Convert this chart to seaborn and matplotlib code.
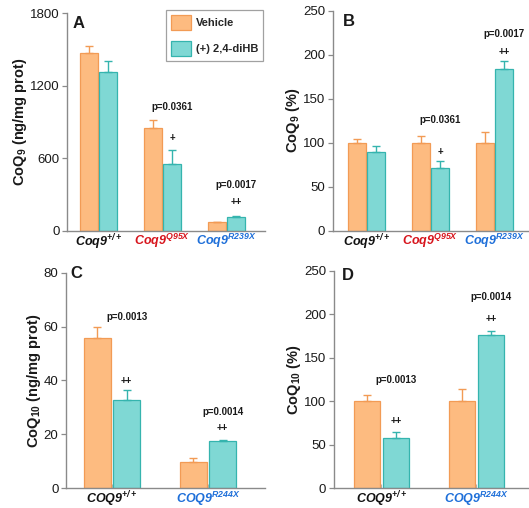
import numpy as np
import pandas as pd
import matplotlib
matplotlib.use("Agg")
import matplotlib.pyplot as plt
import seaborn as sns

# ---- data -------------------------------------------------------------
treatments = ["Vehicle", "(+) 2,4-diHB"]

mouse_genotypes = ["Coq9 +/+", "Coq9 Q95X", "Coq9 R239X"]
mouse_labels = [r"$\mathsf{Coq9}^{\mathsf{+/+}}$",
                r"$\mathsf{Coq9}^{\mathsf{Q95X}}$",
                r"$\mathsf{Coq9}^{\mathsf{R239X}}$"]
mouse_label_colors = ["#111111", "#d7141c", "#1e6fd9"]

human_genotypes = ["COQ9 +/+", "COQ9 R244X"]
human_labels = [r"$\mathsf{COQ9}^{\mathsf{+/+}}$",
                r"$\mathsf{COQ9}^{\mathsf{R244X}}$"]
human_label_colors = ["#111111", "#1e6fd9"]

# A: CoQ9 (ng/mg prot)
coq9_abs_vehicle = [1473, 845, 68]
coq9_abs_vehicle_sem = [54, 71, 6]
coq9_abs_dihb = [1312, 548, 117]
coq9_abs_dihb_sem = [95, 120, 8]

# B: CoQ9 (%)
coq9_pct_vehicle = [100, 100, 100]
coq9_pct_vehicle_sem = [3.8, 8.0, 12.0]
coq9_pct_dihb = [89.4, 70.8, 183.7]
coq9_pct_dihb_sem = [6.4, 8.4, 9.3]

# C: CoQ10 (ng/mg prot)
coq10_abs_vehicle = [55.9, 9.9]
coq10_abs_vehicle_sem = [4.1, 1.5]
coq10_abs_dihb = [32.8, 17.4]
coq10_abs_dihb_sem = [3.6, 0.7]

# D: CoQ10 (%)
coq10_pct_vehicle = [100, 100]
coq10_pct_vehicle_sem = [6.9, 13.7]
coq10_pct_dihb = [58.2, 175.7]
coq10_pct_dihb_sem = [6.8, 5.3]

# ---- style ------------------------------------------------------------
sns.set_theme(style="white")
plt.rcParams["font.family"] = ["Liberation Sans", "DejaVu Sans"]
plt.rcParams["mathtext.fontset"] = "custom"
plt.rcParams["mathtext.rm"] = "Liberation Sans:bold"
plt.rcParams["mathtext.it"] = "Liberation Sans:italic:bold"
plt.rcParams["mathtext.bf"] = "Liberation Sans:bold"
plt.rcParams["mathtext.sf"] = "Liberation Sans:italic:bold"

fill_colors = ["#fdbb80", "#7fd8d4"]
edge_colors = ["#f29b55", "#35b4ae"]
spine_color = "#8a8a8a"
text_color = "#1a1a1a"

fig = plt.figure(figsize=(5.29, 5.08), dpi=100)
fig.patch.set_facecolor("white")


def panel(rect, genotypes, labels, label_colors, vehicle, vehicle_sem,
          dihb, dihb_sem, xlim, ylim, yticks, ylabel, letter, letter_xy,
          notes):
    ax = fig.add_axes(rect)
    df = pd.DataFrame({
        "genotype": genotypes * 2,
        "treatment": [treatments[0]] * len(genotypes) + [treatments[1]] * len(genotypes),
        "value": list(vehicle) + list(dihb),
    })
    sns.barplot(data=df, x="genotype", y="value", hue="treatment",
                order=genotypes, hue_order=treatments, palette=fill_colors,
                saturation=1, width=0.61, gap=0.08, errorbar=None,
                linewidth=0.9, legend=False, ax=ax, zorder=2)
    bar_groups = list(ax.containers)
    sems = [vehicle_sem, dihb_sem]
    means = [vehicle, dihb]
    for i, cont in enumerate(bar_groups):
        xs = []
        for p in cont.patches:
            p.set_edgecolor(edge_colors[i])
            xs.append(p.get_x() + p.get_width() / 2)
        ax.errorbar(xs, means[i], yerr=[np.zeros(len(xs)), sems[i]],
                    fmt="none", ecolor=edge_colors[i], elinewidth=1.0,
                    capsize=3.2, capthick=1.0, zorder=3)
    # annotations sit above the 2,4-diHB bar of each group
    cyan = bar_groups[1].patches
    for idx, txt, y in notes:
        p = cyan[idx]
        ax.text(p.get_x() + p.get_width() / 2, y, txt, ha="center",
                va="center", fontsize=7, fontweight="bold", color=text_color)

    ax.set_xlim(*xlim)
    ax.set_ylim(*ylim)
    ax.set_yticks(yticks)
    ax.set_yticklabels([str(t) for t in yticks], fontsize=9.5, color=text_color)
    ax.set_xticks(range(len(genotypes)))
    ax.set_xticklabels(labels, fontsize=9)
    for t, c in zip(ax.get_xticklabels(), label_colors):
        t.set_color(c)
    ax.set_xlabel("")
    ax.set_ylabel(ylabel, fontsize=10.5, fontweight="bold", color=text_color,
                  labelpad=0.5)
    sns.despine(ax=ax)
    for s in ("left", "bottom"):
        ax.spines[s].set_color(spine_color)
        ax.spines[s].set_linewidth(1.0)
    ax.tick_params(axis="y", direction="out", length=3.5, width=0.9,
                   color=spine_color, pad=2, left=True)
    ax.tick_params(axis="x", direction="in", length=3, width=0.8,
                   color="#b0b0b0", pad=1, bottom=True)
    ax.text(letter_xy[0], letter_xy[1], letter, transform=ax.transAxes,
            fontsize=12, fontweight="bold", color=text_color,
            ha="center", va="center")
    return ax, bar_groups


axA, barsA = panel([0.1267, 0.5459, 0.3743, 0.4285], mouse_genotypes, mouse_labels,
                   mouse_label_colors, coq9_abs_vehicle, coq9_abs_vehicle_sem,
                   coq9_abs_dihb, coq9_abs_dihb_sem, (-0.492, 2.602), (0, 1800),
                   [0, 600, 1200, 1800], "CoQ$_{9}$ (ng/mg prot)", "A", (0.056, 0.954),
                   [(1, "p=0.0361", 1024), (1, "+", 768),
                    (2, "p=0.0017", 380), (2, "++", 240)])

handles = [c.patches[0] for c in barsA]
leg = axA.legend(handles=handles, labels=treatments, loc="upper right",
                 bbox_to_anchor=(0.99, 1.015), borderaxespad=0,
                 frameon=True, fancybox=False,
                 prop={"weight": "bold", "size": 8},
                 handlelength=1.8, handleheight=1.75, handletextpad=0.45,
                 labelspacing=0.95, borderpad=0.45)
leg.get_frame().set_edgecolor("#8a8a8a")
leg.get_frame().set_linewidth(0.9)

panel([0.6295, 0.5459, 0.3705, 0.4331], mouse_genotypes, mouse_labels,
      mouse_label_colors, coq9_pct_vehicle, coq9_pct_vehicle_sem,
      coq9_pct_dihb, coq9_pct_dihb_sem, (-0.523, 2.54), (0, 250),
      [0, 50, 100, 150, 200, 250], "CoQ$_{9}$ (%)", "B", (0.081, 0.953),
      [(1, "p=0.0361", 126), (1, "+", 89.5),
       (2, "p=0.0017", 224), (2, "++", 203)])

panel([0.1248, 0.0388, 0.3762, 0.4244], human_genotypes, human_labels,
      human_label_colors, coq10_abs_vehicle, coq10_abs_vehicle_sem,
      coq10_abs_dihb, coq10_abs_dihb_sem, (-0.479, 1.594), (0, 80),
      [0, 20, 40, 60, 80], "CoQ$_{10}$ (ng/mg prot)", "C", (0.05, 0.994),
      [(0, "p=0.0013", 63.7), (0, "++", 39.8),
       (1, "p=0.0014", 28.4), (1, "++", 22.4)])

panel([0.6314, 0.0388, 0.3686, 0.4283], human_genotypes, human_labels,
      human_label_colors, coq10_pct_vehicle, coq10_pct_vehicle_sem,
      coq10_pct_dihb, coq10_pct_dihb_sem, (-0.5, 1.553), (0, 250),
      [0, 50, 100, 150, 200, 250], "CoQ$_{10}$ (%)", "D", (0.071, 0.98),
      [(0, "p=0.0013", 124.5), (0, "++", 77.7),
       (1, "p=0.0014", 219.4), (1, "++", 194.5)])

fig.savefig("out.png", dpi=100, facecolor="white")
